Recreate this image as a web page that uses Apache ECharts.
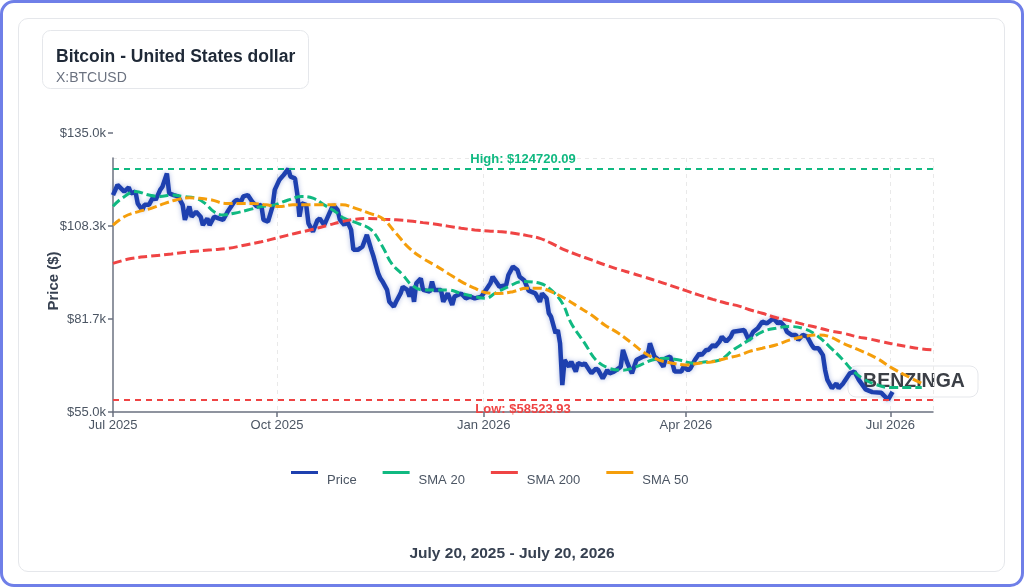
<!DOCTYPE html>
<html>
<head>
<meta charset="utf-8">
<title>Bitcoin - United States dollar</title>
<script src="https://cdn.jsdelivr.net/npm/echarts@6/dist/echarts.min.js"></script>
<style>
html, body { margin: 0; padding: 0; background: #fff; }
#frame { position: absolute; left: 0; top: 0; width: 1024px; height: 587px; box-sizing: border-box; border: 3px solid #6f7fe8; border-radius: 14px; }
#card { position: absolute; left: 18px; top: 18px; width: 987px; height: 554px; box-sizing: border-box; border: 1px solid #e5e7eb; border-radius: 10px; }
#chart { position: absolute; left: 0; top: 0; width: 1024px; height: 587px; }
</style>
</head>
<body>
<div id="frame"></div>
<div id="card"></div>
<div id="chart"></div>
<script>
// x values are day offsets counted from the first date of the range (Jul 20, 2025)
var startDate = Date.UTC(2025, 6, 20);
var endDate = Date.UTC(2026, 6, 20);
var DAY = 86400000;

var tickDates = [Date.UTC(2025, 6, 20), Date.UTC(2025, 9, 1), Date.UTC(2026, 0, 1), Date.UTC(2026, 3, 1), Date.UTC(2026, 6, 1)];
var tickLabels = ['Jul 2025', 'Oct 2025', 'Jan 2026', 'Apr 2026', 'Jul 2026'];
var yTicks = [55000, 81666.67, 108333.33, 135000];

var highValue = 124720.09;
var lowValue = 58523.93;

var priceDays = [
  0, 2, 5, 7, 8, 10, 11, 13, 14, 16,
  18, 19, 21, 22, 24, 25, 27, 29, 31, 32,
  34, 35, 37, 39, 40, 42, 43, 45, 47, 49,
  51, 54, 55, 57, 58, 60, 62, 64, 66, 67,
  69, 71, 72, 74, 76, 78, 79, 81, 82, 83,
  84, 86, 87, 89, 91, 92, 94, 96, 98, 100,
  101, 103, 104, 106, 107, 109, 111, 113, 115, 116,
  118, 119, 120, 122, 123, 125, 126, 128, 129, 131,
  132, 133, 134, 135, 137, 138, 141, 142, 143, 146,
  147, 149, 151, 152, 155, 157, 159, 161, 164, 166,
  168, 169, 171, 172, 175, 176, 178, 180, 181, 183,
  185, 188, 190, 191, 193, 194, 195, 197, 198, 199,
  200, 201, 203, 204, 206, 207, 209, 210, 212, 213,
  215, 216, 218, 220, 221, 223, 224, 226, 227, 229,
  230, 231, 233, 236, 238, 239, 241, 243, 245, 246,
  248, 249, 250, 253, 254, 256, 257, 259, 261, 262,
  264, 265, 267, 268, 270, 271, 273, 275, 276, 279,
  281, 283, 285, 287, 289, 291, 293, 294, 296, 297,
  299, 300, 302, 304, 305, 307, 309, 311, 312, 314,
  316, 317, 318, 320, 322, 323, 325, 326, 328, 330,
  332, 335, 338, 342, 345, 347
];
var priceValues = [
  117200, 120100, 118200, 119400, 117700, 118200, 114800, 112900, 114400, 114400,
  116800, 115800, 118700, 119600, 123400, 117700, 117200, 116800, 114400, 110100,
  113900, 111000, 112400, 111000, 108600, 110500, 108600, 111000, 110500, 110100,
  112400, 115300, 115800, 115300, 116800, 117200, 115300, 113900, 114400, 110100,
  109600, 113900, 118700, 121500, 123000, 124720, 122500, 122000, 117700, 111000,
  114800, 114400, 109100, 106700, 110000, 110500, 108600, 111500, 114400, 112900,
  110100, 108600, 110100, 107200, 101500, 101500, 102400, 105800, 101500, 99500,
  94800, 93300, 92400, 90000, 86600, 85200, 86600, 89000, 90900, 90000,
  88100, 90900, 86600, 91900, 93300, 90000, 89500, 92400, 90000, 90000,
  86600, 89000, 85700, 88100, 89000, 87600, 88100, 87600, 88100, 90000,
  91900, 93800, 91900, 90900, 91400, 94300, 96700, 95700, 93800, 92800,
  89800, 89000, 86600, 89000, 87600, 83300, 82300, 77600, 78500, 74700,
  62700, 69900, 68000, 69400, 66600, 69000, 68500, 69000, 67000, 66100,
  67500, 67000, 64600, 67000, 66100, 66600, 67000, 68000, 72800, 69000,
  67500, 66100, 69900, 70900, 71300, 74700, 70900, 69900, 68000, 70400,
  70900, 69000, 66600, 66600, 68000, 67000, 67500, 69900, 71800, 71300,
  72800, 72800, 74200, 73700, 75200, 76600, 75200, 76600, 78000, 78300,
  78500, 75600, 78000, 79000, 80900, 80400, 81400, 81900, 80400, 80900,
  79500, 78000, 77100, 77100, 75600, 77100, 76600, 74200, 73300, 73300,
  71300, 67000, 64200, 61800, 63200, 61800, 63200, 64200, 66100, 66600,
  64200, 61500, 60700, 60500, 58524, 60800
];

var sma20Days = [
  0, 4, 10, 16, 21, 26, 31, 37, 41, 45,
  49, 54, 60, 66, 72, 78, 84, 89, 94, 99,
  103, 109, 115, 120, 124, 129, 133, 138, 143, 149,
  155, 161, 166, 170, 176, 182, 190, 195, 200, 204,
  210, 215, 221, 227, 233, 240, 246, 252, 258, 264,
  270, 276, 279, 283, 289, 295, 301, 307, 313, 319,
  325, 329, 334, 340, 346, 353, 360
];
var sma20Values = [
  114000, 116300, 118200, 117200, 116800, 117200, 116800, 116300, 114800, 112400,
  111500, 112000, 112900, 113900, 114400, 115800, 116800, 116300, 114400, 112400,
  110500, 109100, 107200, 102400, 97600, 94300, 91400, 90000, 90000, 90000,
  89000, 88100, 87600, 89000, 90900, 92400, 91900, 90000, 86200, 80400,
  74700, 69900, 67500, 67000, 68000, 69900, 70400, 69900, 69000, 69400,
  69900, 72800, 74000, 75600, 78000, 79000, 79500, 79000, 77100, 73700,
  69900, 67000, 64500, 62800, 62000, 62000, 62000
];

var sma50Days = [
  0, 5, 11, 17, 23, 28, 34, 38, 44, 50,
  56, 62, 68, 74, 80, 86, 91, 102, 108, 114,
  120, 126, 132, 138, 143, 149, 155, 161, 166, 172,
  178, 184, 190, 195, 201, 207, 213, 219, 225, 231,
  237, 243, 249, 255, 261, 267, 273, 279, 283, 289,
  295, 301, 307, 314, 319, 325, 332, 340, 347, 354,
  360
];
var sma50Values = [
  108600, 111000, 112400, 113400, 114800, 115800, 116400, 116300, 115800, 114800,
  114800, 114800, 114400, 113900, 114400, 114400, 114400, 114400, 113400, 112000,
  110500, 106200, 101900, 99000, 97200, 94800, 92400, 90500, 89200, 89000,
  89500, 90500, 90500, 89500, 87600, 85200, 82800, 79900, 77600, 74700,
  71800, 69900, 69000, 68500, 69000, 69400, 70400, 71300, 72300, 73300,
  74200, 75600, 76600, 77100, 76600, 74700, 72800, 70400, 67500, 65100,
  63200
];

var sma200Days = [
  0, 8, 17, 26, 35, 44, 51, 59, 66, 74,
  81, 89, 96, 102, 108, 114, 120, 126, 132, 138,
  143, 149, 155, 161, 167, 173, 179, 185, 190, 195,
  201, 207, 213, 219, 225, 231, 237, 243, 249, 255,
  261, 267, 273, 279, 283, 289, 295, 301, 307, 313,
  319, 325, 331, 337, 342, 348, 354, 360, 365
];
var sma200Values = [
  97600, 99000, 99700, 100300, 101000, 101500, 101900, 102900, 103800, 105100,
  106200, 107400, 108600, 109600, 110300, 110500, 110300, 110100, 109800, 109300,
  108900, 108300, 107700, 107200, 106900, 106700, 106200, 105500, 104800, 103400,
  101500, 100000, 98600, 97200, 95900, 94800, 93600, 92400, 91100, 89800,
  88500, 87300, 86200, 85300, 84400, 83300, 82100, 81200, 80200, 79300,
  78300, 77600, 76600, 75900, 75200, 74400, 73700, 73100, 72800
];

var colors = { price: '#1e40af', sma20: '#10b981', sma200: '#ef4444', sma50: '#f59e0b' };

var tickDays = tickDates.map(function (t) { return (t - startDate) / DAY; });
var lastDay = (endDate - startDate) / DAY;

function toSeries(days, vals) {
  return days.map(function (d, i) { return [d, vals[i]]; });
}

function smaLine(name, color, days, vals) {
  return {
    name: name,
    type: 'line',
    data: toSeries(days, vals),
    showSymbol: false,
    smooth: 0.4,
    itemStyle: { color: color },
    lineStyle: { color: color, width: 3, type: [9, 4] }
  };
}

var font = 'Liberation Sans, Arial, Helvetica, sans-serif';
var axisGray = '#6b7280';
// legend swatch: a bar at the top of a taller box, so the label sits a little lower
var legendIcon = 'path://M0,0L27,0L27,3L0,3ZM0,19L0.01,19L0,19Z';

var chart = echarts.init(document.getElementById('chart'));

chart.setOption({
  animation: false,
  textStyle: { fontFamily: font },
  title: {
    text: 'Bitcoin - United States dollar',
    subtext: 'X:BTCUSD',
    left: 42,
    top: 30,
    padding: [18, 14, 4, 14],
    itemGap: 5,
    backgroundColor: '#fff',
    borderColor: '#e5e7eb',
    borderWidth: 1,
    borderRadius: 8,
    textStyle: { fontSize: 17.5, fontWeight: 'bold', color: '#1f2937', fontFamily: font },
    subtextStyle: { fontSize: 14, color: '#6b7280', fontFamily: font }
  },
  legend: {
    data: ['Price', 'SMA 20', 'SMA 200', 'SMA 50'],
    left: 291,
    top: 471,
    padding: 0,
    icon: legendIcon,
    itemWidth: 27,
    itemHeight: 19,
    itemGap: 26,
    selectedMode: false,
    textStyle: { color: '#4b5563', fontSize: 13, padding: [0, 0, 0, 4] }
  },
  grid: [
    { left: 113, right: 91, top: 133, bottom: 175 },
    { left: 113, right: 91, top: 158, bottom: 175 }
  ],
  xAxis: [
    {
      type: 'value',
      min: 0,
      max: lastDay,
      axisLine: { lineStyle: { color: axisGray, width: 1.5 } },
      axisTick: { show: true, customValues: tickDays, length: 5, lineStyle: { color: axisGray, width: 1.5 } },
      axisLabel: {
        customValues: tickDays,
        color: '#4b5563',
        fontSize: 13,
        margin: 7,
        formatter: function (v) {
          var best = 0;
          for (var i = 1; i < tickDays.length; i++) {
            if (Math.abs(tickDays[i] - v) < Math.abs(tickDays[best] - v)) best = i;
          }
          return tickLabels[best];
        }
      },
      splitLine: { show: false }
    },
    {
      // only carries the faint vertical grid lines of the inner plot box
      gridIndex: 1,
      type: 'value',
      min: 0,
      max: lastDay,
      axisLine: { show: false },
      axisTick: { show: false, customValues: tickDays.slice(1).concat([lastDay]) },
      axisLabel: { show: false },
      splitLine: { show: true, lineStyle: { color: '#e9e9e9', type: [4, 4] } }
    }
  ],
  yAxis: [
    {
      type: 'value',
      min: 55000,
      max: 135000,
      axisLine: { show: false },
      axisTick: { show: true, customValues: yTicks, length: 5, lineStyle: { color: axisGray, width: 1.5 } },
      axisLabel: {
        customValues: yTicks,
        color: '#4b5563',
        fontSize: 13,
        margin: 7,
        formatter: function (v) { return '$' + (v / 1000).toFixed(1) + 'k'; }
      },
      splitLine: { show: false }
    },
    {
      gridIndex: 1,
      type: 'value',
      min: 0,
      max: 1,
      axisLine: { show: true, lineStyle: { color: axisGray, width: 1.5 } },
      axisTick: { show: false, customValues: [1] },
      axisLabel: { show: false },
      splitLine: { show: true, lineStyle: { color: '#e9e9e9', type: [4, 4] } }
    }
  ],
  graphic: [
    { type: 'text', x: 54, y: 281, rotation: Math.PI / 2,
      style: { text: 'Price ($)', font: 'bold 15px ' + font, fill: '#374151', align: 'center', verticalAlign: 'middle' } },
    { type: 'group', z: 100, children: [
      { type: 'rect', shape: { x: 848, y: 366, width: 130, height: 31, r: 8 },
        style: { fill: 'rgba(255,255,255,0.72)', stroke: '#e5e7eb', lineWidth: 1 } },
      { type: 'text', x: 914, y: 382,
        style: { text: 'BENZINGA', font: 'bold 19.5px ' + font, fill: '#3b3f46', align: 'center', verticalAlign: 'middle' } }
    ] },
    { type: 'text', x: 512, y: 554,
      style: { text: 'July 20, 2025 - July 20, 2026', font: 'bold 15.5px ' + font, fill: '#374151', align: 'center', verticalAlign: 'middle' } }
  ],
  series: [
    {
      name: 'Price',
      type: 'line',
      data: toSeries(priceDays, priceValues),
      showSymbol: false,
      itemStyle: { color: colors.price },
      lineStyle: { color: colors.price, width: 4.5, shadowColor: 'rgba(30,64,175,0.35)', shadowBlur: 5 },
      markLine: {
        silent: true,
        symbol: 'none',
        data: [
          { yAxis: highValue,
            lineStyle: { color: colors.sma20, type: [6, 5], width: 2 },
            label: { position: 'insideMiddleTop', formatter: 'High: $' + highValue.toFixed(2), color: colors.sma20, fontWeight: 'bold', fontSize: 13, distance: 3 } },
          { yAxis: lowValue,
            lineStyle: { color: colors.sma200, type: [6, 5], width: 2 },
            label: { position: 'insideMiddleBottom', formatter: 'Low: $' + lowValue.toFixed(2), color: colors.sma200, fontWeight: 'bold', fontSize: 13, distance: 3 } }
        ]
      }
    },
    smaLine('SMA 20', colors.sma20, sma20Days, sma20Values),
    smaLine('SMA 200', colors.sma200, sma200Days, sma200Values),
    smaLine('SMA 50', colors.sma50, sma50Days, sma50Values)
  ]
});
</script>
</body>
</html>
